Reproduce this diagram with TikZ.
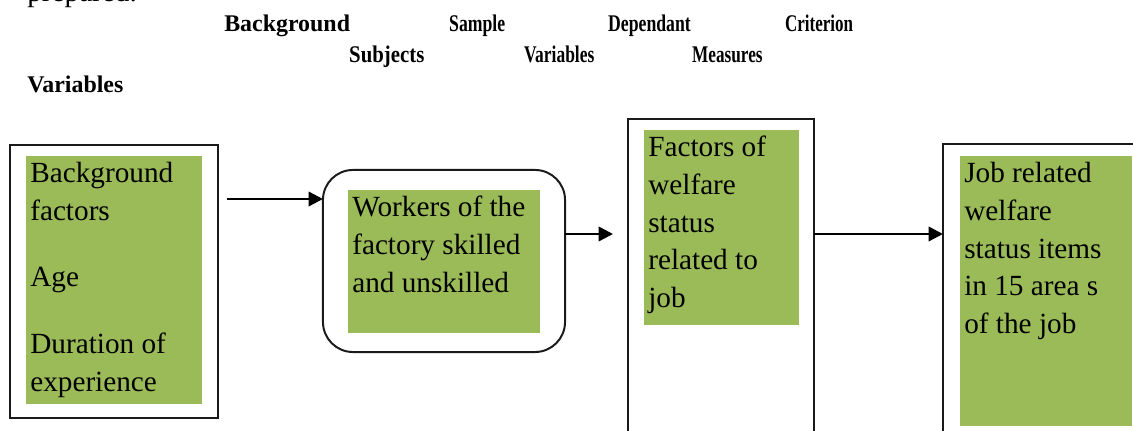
\documentclass[tikz,border=0pt]{standalone}
\usepackage{fontspec}
\setmainfont{Liberation Serif}
\usetikzlibrary{arrows.meta, positioning}
\definecolor{cellGreen}{HTML}{9BBB59}
\definecolor{frameInk}{HTML}{1A1A1A}

\begin{document}
\begin{tikzpicture}[x=0.025cm, y=-0.025cm,
   frame/.style={rectangle, draw=frameInk, line width=1.4pt, fill=white,
                 inner sep=0pt, outer sep=0pt},
   cell/.style={rectangle, fill=cellGreen, anchor=north west,
                inner xsep=0.1cm, inner ysep=0pt,
                font=\fontsize{20.8}{26.8}\selectfont},
   head/.style={anchor=base west, inner sep=0pt,
                font=\fontsize{17}{20}\selectfont\bfseries},
   narrow/.style={head, xscale=#1, transform shape},
   flow/.style={-{Triangle[length=0.36cm, width=0.36cm]}, line width=1.8pt}]
\useasboundingbox (0,0) rectangle (1133,431);
\clip (0,0) rectangle (1133,431);

\node[anchor=base west, inner sep=0pt, font=\fontsize{20.8}{26.8}\selectfont]
  (pre) at (27,2) {prepared.};

\node[head] (h1) at (224,32) {Background};
\node[narrow=0.74] (h2) at (449,32) {Sample};
\node[narrow=0.74] (h3) at (608,32) {Dependant};
\node[narrow=0.71] (h4) at (785,32) {Criterion};
\node[narrow=0.87] (h5) at (349,63) {Subjects};
\node[narrow=0.73] (h6) at (524,63) {Variables};
\node[narrow=0.72] (h7) at (692,63) {Measures};
\node[head] (h8) at (27,93) {Variables};

\node[frame, minimum width=5.2cm, minimum height=6.825cm] (b1) at (114,281.5) {};
\node[cell] (c1) at (26,156)
  {\parbox[t][6.2cm][t]{4.2cm}{\raggedright\strut Background\\factors\\[0.72cm]
   Age\\[0.72cm]Duration of\\experience}};

\node[frame, rounded corners=0.75cm, minimum width=6.05cm,
      minimum height=4.55cm] (b2) at (444,261) {};
\node[cell] (c2) at (348,190)
  {\parbox[t][3.575cm][t]{4.6cm}{\raggedright\strut Workers of the\\
   factory skilled\\and unskilled}};

\node[frame, minimum width=4.65cm, minimum height=8.775cm] (b3) at (721,294.5) {};
\node[cell] (c3) at (644,130)
  {\parbox[t][4.875cm][t]{3.675cm}{\raggedright\strut Factors of\\welfare\\
   status\\related to\\job}};

\node[frame, minimum width=5.175cm, minimum height=8.15cm] (b4) at (1046.5,307) {};
\node[cell] (c4) at (960,156)
  {\parbox[t][6.75cm][t]{4.1cm}{\raggedright\strut Job related\\welfare\\
   status items\\in 15 area s\\of the job}};

\coordinate (a1) at (0,199);
\coordinate (a2) at (613,234);
\draw[flow, shorten <=0.225cm] (b1.east |- a1) -- (b2.west |- a1);
\draw[flow] (b2.east |- a2) -- (a2);
\draw[flow] (b3.east |- a2) -- (b4.west |- a2);
\end{tikzpicture}
\end{document}
